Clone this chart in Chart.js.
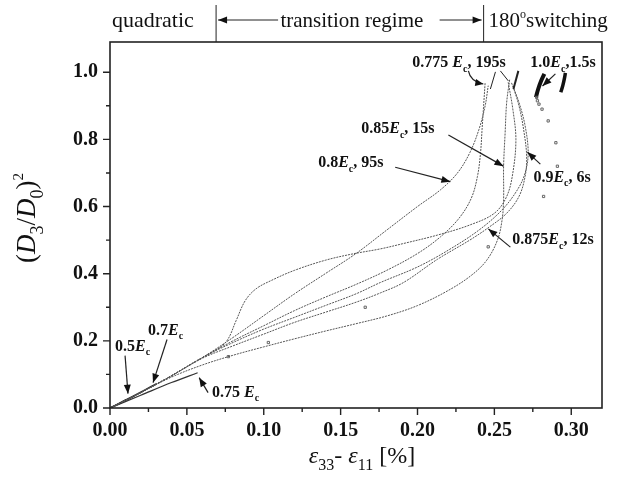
<!DOCTYPE html>
<html>
<head>
<meta charset="utf-8">
<script src="https://cdn.jsdelivr.net/npm/chart.js@4.4.0/dist/chart.umd.min.js"></script>
<style>
  html, body { margin: 0; padding: 0; background: #fff; }
</style>
</head>
<body>
<canvas id="strainChart" width="619" height="484"></canvas>
<script>
'use strict';

/* ---- axis ticks ---- */
var X_TICKS = [0, 0.05, 0.10, 0.15, 0.20, 0.25, 0.30];
var X_MINOR = [0.025, 0.075, 0.125, 0.175, 0.225, 0.275];
var Y_TICKS = [0, 0.2, 0.4, 0.6, 0.8, 1.0];
var Y_MINOR = [0.1, 0.3, 0.5, 0.7, 0.9];

/* ---- measured curves: strain difference [%] vs (D3/D0)^2 ---- */
var E050_X = [0, 0.005, 0.010, 0.015];
var E050_Y = [0, 0.011, 0.023, 0.034];

var E070_X = [0, 0.010, 0.020, 0.030];
var E070_Y = [0, 0.023, 0.047, 0.072];

var E075_X = [0, 0.020, 0.040, 0.057];
var E075_Y = [0, 0.038, 0.076, 0.105];

var E0775_X = [0, 0.02, 0.04, 0.06, 0.08, 0.10, 0.12, 0.14, 0.16, 0.18, 0.20, 0.215, 0.227, 0.235, 0.239, 0.241, 0.242, 0.243, 0.244];
var E0775_Y = [0, 0.046, 0.096, 0.15, 0.20, 0.245, 0.29, 0.33, 0.368, 0.41, 0.46, 0.51, 0.565, 0.625, 0.69, 0.76, 0.83, 0.90, 0.97];

var E080_X = [0, 0.02, 0.04, 0.06, 0.08, 0.10, 0.12, 0.14, 0.16, 0.18, 0.20, 0.215, 0.226, 0.234, 0.240, 0.244, 0.246];
var E080_Y = [0, 0.046, 0.096, 0.15, 0.21, 0.275, 0.34, 0.40, 0.46, 0.53, 0.60, 0.65, 0.70, 0.76, 0.83, 0.90, 0.96];

var E085_X = [0, 0.02, 0.04, 0.06, 0.08, 0.10, 0.12, 0.14, 0.16, 0.18, 0.20, 0.22, 0.235, 0.245, 0.252, 0.255, 0.256, 0.256, 0.257, 0.258, 0.260];
var E085_Y = [0, 0.046, 0.092, 0.128, 0.157, 0.182, 0.206, 0.229, 0.251, 0.274, 0.305, 0.35, 0.395, 0.44, 0.50, 0.56, 0.62, 0.72, 0.82, 0.91, 0.98];

var E0875_X = [0, 0.02, 0.04, 0.06, 0.08, 0.10, 0.12, 0.14, 0.16, 0.176, 0.191, 0.213, 0.234, 0.247, 0.258, 0.266, 0.270, 0.271, 0.269, 0.266, 0.262];
var E0875_Y = [0, 0.046, 0.096, 0.148, 0.185, 0.22, 0.255, 0.285, 0.315, 0.343, 0.374, 0.443, 0.50, 0.54, 0.58, 0.63, 0.69, 0.75, 0.83, 0.90, 0.96];

var E090_X = [0, 0.02, 0.04, 0.06, 0.08, 0.10, 0.12, 0.14, 0.16, 0.176, 0.20, 0.22, 0.24, 0.255, 0.265, 0.270, 0.272, 0.270, 0.266, 0.261];
var E090_Y = [0, 0.046, 0.096, 0.15, 0.195, 0.235, 0.27, 0.305, 0.34, 0.374, 0.42, 0.47, 0.53, 0.59, 0.65, 0.70, 0.76, 0.84, 0.91, 0.97];

// curve with the early rise just past the quadratic range
var E0825_X = [0, 0.02, 0.04, 0.06, 0.068, 0.076, 0.082, 0.088, 0.095, 0.105, 0.12, 0.14, 0.158, 0.176, 0.191, 0.213, 0.234, 0.250, 0.258, 0.262, 0.264, 0.262, 0.259];
var E0825_Y = [0, 0.046, 0.096, 0.15, 0.170, 0.20, 0.26, 0.32, 0.355, 0.38, 0.41, 0.44, 0.459, 0.474, 0.49, 0.515, 0.545, 0.58, 0.63, 0.70, 0.80, 0.89, 0.97];

// 1.0 Ec, 1.5 s: sparse samples, then the dense end of switching
var E100_X = [0.077, 0.103, 0.166, 0.246, 0.282, 0.291, 0.290, 0.285, 0.281, 0.279, 0.278, 0.2775];
var E100_Y = [0.153, 0.195, 0.300, 0.480, 0.630, 0.720, 0.790, 0.855, 0.890, 0.905, 0.915, 0.925];
var E100_END_X = [0.2770, 0.2785, 0.2805, 0.2825];
var E100_END_Y = [0.925, 0.950, 0.975, 0.995];
var E100_TAIL_X = [0.2932, 0.2945, 0.2955, 0.2962];
var E100_TAIL_Y = [0.940, 0.960, 0.980, 0.998];

function pts(xs, ys) {
  return xs.map(function(x, i) { return { x: x, y: ys[i] }; });
}

var SERIF = '"Liberation Serif", "Times New Roman", serif';

function curve(xs, ys, color, width) {
  return {
    data: pts(xs, ys),
    showLine: true,
    borderColor: color || '#555',
    borderWidth: width || 1,
    borderDash: width ? [] : [2, 1],
    pointRadius: 0,
    tension: 0.35,
    fill: false
  };
}

/* ---- rich text: [text, style]; b bold, i italic, trailing s = subscript, p = superscript ---- */
function styleInfo(style, size) {
  var bold = style.charAt(0) === 'b';
  var italic = style.indexOf('i') >= 0;
  var last = style.slice(-1);
  var sub = last === 's';
  var sup = last === 'p';
  var sz = size;
  var dy = 0;
  if (sub) { sz = Math.round(size * 0.65); dy = size * 0.3; }
  if (sup) { sz = Math.round(size * 0.55); dy = -size * 0.45; }
  return { font: (italic ? 'italic ' : '') + (bold ? 'bold ' : '') + sz + 'px ' + SERIF, dy: dy };
}

function richText(ctx, parts, x, y, size, align) {
  var total = 0;
  parts.forEach(function(p) {
    p.info = styleInfo(p[1], size);
    ctx.font = p.info.font;
    p.w = ctx.measureText(p[0]).width;
    total += p.w;
  });
  var cx = align === 'center' ? x - total / 2 : (align === 'right' ? x - total : x);
  ctx.textAlign = 'left';
  ctx.textBaseline = 'alphabetic';
  parts.forEach(function(p) {
    ctx.font = p.info.font;
    ctx.fillText(p[0], cx, y + p.info.dy);
    cx += p.w;
  });
}

function arrowHead(ctx, x1, y1, x2, y2, len, half) {
  var a = Math.atan2(y2 - y1, x2 - x1);
  ctx.beginPath();
  ctx.moveTo(x2, y2);
  ctx.lineTo(x2 - len * Math.cos(a) + half * Math.sin(a), y2 - len * Math.sin(a) - half * Math.cos(a));
  ctx.lineTo(x2 - len * Math.cos(a) - half * Math.sin(a), y2 - len * Math.sin(a) + half * Math.cos(a));
  ctx.closePath();
  ctx.fill();
}

function arrow(ctx, x1, y1, x2, y2, width) {
  ctx.lineWidth = width || 1;
  ctx.beginPath();
  ctx.moveTo(x1, y1);
  ctx.lineTo(x2, y2);
  ctx.stroke();
  arrowHead(ctx, x1, y1, x2, y2, 9, 3.5);
}

/* ---- labels and leaders, in data units ---- */
var LABELS = [
  { at: [0.1966, 1.0158], parts: [['0.775 ', 'b'], ['E', 'bi'], ['c', 'bs'], [', 195s', 'b']] },
  { at: [0.2734, 1.0158], parts: [['1.0', 'b'], ['E', 'bi'], ['c', 'bs'], [',1.5s', 'b']] },
  { at: [0.1634, 0.8188], parts: [['0.85', 'b'], ['E', 'bi'], ['c', 'bs'], [', 15s', 'b']] },
  { at: [0.1354, 0.7173], parts: [['0.8', 'b'], ['E', 'bi'], ['c', 'bs'], [', 95s', 'b']] },
  { at: [0.2754, 0.6740], parts: [['0.9', 'b'], ['E', 'bi'], ['c', 'bs'], [', 6s', 'b']] },
  { at: [0.2617, 0.4890], parts: [['0.875', 'b'], ['E', 'bi'], ['c', 'bs'], [', 12s', 'b']] },
  { at: [0.0247, 0.2188], parts: [['0.7', 'b'], ['E', 'bi'], ['c', 'bs']] },
  { at: [0.0033, 0.1710], parts: [['0.5', 'b'], ['E', 'bi'], ['c', 'bs']] },
  { at: [0.0664, 0.0337], parts: [['0.75 ', 'b'], ['E', 'bi'], ['c', 'bs']] }
];

var ARROWS = [
  [0.1855, 0.717, 0.2214, 0.674],
  [0.2201, 0.8128, 0.2559, 0.7203],
  [0.2799, 0.7263, 0.2715, 0.7621],
  [0.2604, 0.4790, 0.2461, 0.5334],
  [0.0098, 0.1560, 0.0117, 0.0427],
  [0.0371, 0.2040, 0.0280, 0.0755],
  [0.0638, 0.0457, 0.0580, 0.0904],
  [0.2897, 0.9950, 0.2813, 0.9590]
];

var LEADERS = [
  [0.2507, 1.001, 0.2474, 0.95, 1],
  [0.2539, 1.004, 0.2591, 0.974, 1],
  [0.2656, 1.004, 0.2624, 0.95, 2]
];

var overlay = {
  id: 'overlay',
  afterDraw: function(chart) {
    var ctx = chart.ctx, a = chart.chartArea;
    var xs = chart.scales.x, ys = chart.scales.y;
    function px(v) { return xs.getPixelForValue(v); }
    function py(v) { return ys.getPixelForValue(v); }

    ctx.save();
    ctx.strokeStyle = '#222';
    ctx.fillStyle = '#111';

    // frame
    ctx.lineWidth = 1.6;
    ctx.strokeRect(a.left, a.top, a.right - a.left, a.bottom - a.top);

    // outward ticks
    ctx.lineWidth = 1.4;
    ctx.beginPath();
    X_TICKS.forEach(function(v) { ctx.moveTo(px(v), a.bottom); ctx.lineTo(px(v), a.bottom + 7); });
    X_MINOR.forEach(function(v) { ctx.moveTo(px(v), a.bottom); ctx.lineTo(px(v), a.bottom + 4); });
    Y_TICKS.forEach(function(v) { ctx.moveTo(a.left, py(v)); ctx.lineTo(a.left - 7, py(v)); });
    Y_MINOR.forEach(function(v) { ctx.moveTo(a.left, py(v)); ctx.lineTo(a.left - 4, py(v)); });
    ctx.stroke();

    // regime header above the plot
    var d1 = px(0.069), d2 = px(0.243);
    ctx.lineWidth = 1;
    ctx.beginPath();
    ctx.moveTo(d1, 5); ctx.lineTo(d1, a.top);
    ctx.moveTo(d2, 5); ctx.lineTo(d2, a.top);
    ctx.stroke();
    richText(ctx, [['quadratic', 'r']], a.left + 2, 27, 22, 'left');
    richText(ctx, [['transition regime', 'r']], (d1 + d2) / 2 + 2, 27, 21, 'center');
    richText(ctx, [['180', 'r'], ['o', 'p'], ['switching', 'r']], d2 + 5, 27, 21, 'left');
    arrow(ctx, d1 + 62, 20, d1 + 2, 20);
    arrow(ctx, d2 - 44, 20, d2 - 2, 20);

    // axis titles
    richText(ctx, [['\u03b5', 'i'], ['33', 's'], ['- ', 'r'], ['\u03b5', 'i'], ['11', 's'], [' [%]', 'r']],
             (a.left + a.right) / 2 + 6, 463, 24, 'center');
    ctx.save();
    ctx.translate(35, 218);
    ctx.rotate(-Math.PI / 2);
    richText(ctx, [['(', 'r'], ['D', 'i'], ['3', 's'], ['/', 'r'], ['D', 'i'], ['0', 's'], [')', 'r'], ['2', 'p']],
             0, 0, 27, 'center');
    ctx.restore();

    // curve labels
    LABELS.forEach(function(l) {
      richText(ctx, l.parts, px(l.at[0]), py(l.at[1]), 16, 'left');
    });

    // leader arrows
    ARROWS.forEach(function(r) { arrow(ctx, px(r[0]), py(r[1]), px(r[2]), py(r[3]), 1.2); });
    LEADERS.forEach(function(r) {
      ctx.lineWidth = r[4];
      ctx.beginPath();
      ctx.moveTo(px(r[0]), py(r[1]));
      ctx.lineTo(px(r[2]), py(r[3]));
      ctx.stroke();
    });

    // curved pointer for 0.775 Ec
    var sx = px(0.2331), sy = py(1.0039), cx = px(0.2344), cy = py(0.972), ex = px(0.2428), ey = py(0.965);
    ctx.lineWidth = 1.2;
    ctx.beginPath();
    ctx.moveTo(sx, sy);
    ctx.quadraticCurveTo(cx, cy, ex, ey);
    ctx.stroke();
    arrowHead(ctx, cx, cy, ex, ey, 8, 3.5);

    ctx.restore();
  }
};

var squares = {
  data: pts(E100_X, E100_Y),
  showLine: false,
  pointStyle: 'rect',
  pointRadius: 1.6,
  borderWidth: 1,
  borderColor: '#666',
  backgroundColor: 'rgba(0,0,0,0)'
};

new Chart(document.getElementById('strainChart'), {
  type: 'scatter',
  data: {
    datasets: [
      curve(E0775_X, E0775_Y),
      curve(E080_X, E080_Y),
      curve(E085_X, E085_Y),
      curve(E0875_X, E0875_Y),
      curve(E090_X, E090_Y),
      curve(E0825_X, E0825_Y),
      curve(E075_X, E075_Y, '#333', 1.3),
      curve(E070_X, E070_Y, '#222', 1.5),
      curve(E050_X, E050_Y, '#222', 1.5),
      squares,
      curve(E100_END_X, E100_END_Y, '#111', 4),
      curve(E100_TAIL_X, E100_TAIL_Y, '#111', 3.5)
    ]
  },
  options: {
    responsive: false,
    animation: false,
    devicePixelRatio: 1,
    layout: { padding: { left: 0, top: 42, right: 17, bottom: 0 } },
    plugins: { legend: { display: false }, tooltip: { enabled: false } },
    scales: {
      x: {
        type: 'linear', min: 0, max: 0.32,
        grid: { display: false, drawTicks: false },
        border: { display: false },
        afterFit: function(s) { s.height = 76; },
        afterBuildTicks: function(s) { s.ticks = X_TICKS.map(function(v) { return { value: v }; }); },
        ticks: {
          padding: 11, color: '#111',
          font: { family: SERIF, size: 20, weight: 'bold' },
          callback: function(v) { return v.toFixed(2); }
        }
      },
      y: {
        type: 'linear', min: 0, max: 1.09,
        grid: { display: false, drawTicks: false },
        border: { display: false },
        afterFit: function(s) { s.width = 110; },
        afterBuildTicks: function(s) { s.ticks = Y_TICKS.map(function(v) { return { value: v }; }); },
        ticks: {
          padding: 12, color: '#111',
          font: { family: SERIF, size: 20, weight: 'bold' },
          callback: function(v) { return v.toFixed(1); }
        }
      }
    }
  },
  plugins: [overlay]
});
</script>
</body>
</html>
